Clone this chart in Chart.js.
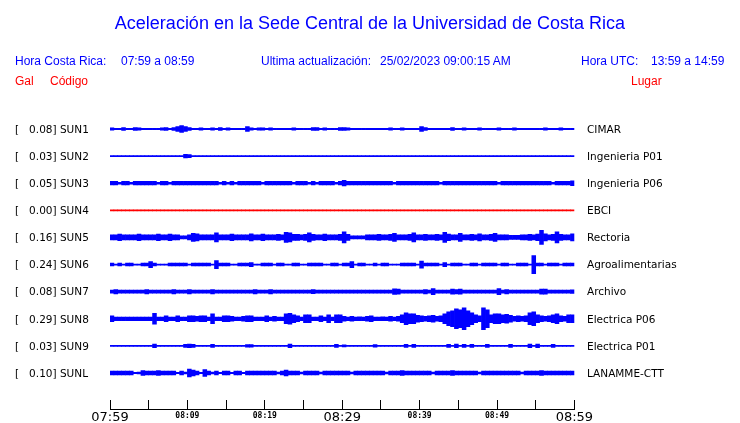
<!DOCTYPE html>
<html><head><meta charset="utf-8">
<script src="https://cdn.jsdelivr.net/npm/chart.js@4.4.0/dist/chart.umd.min.js"></script>
<style>
html,body{margin:0;padding:0;background:#fff;}
#wrap{position:relative;width:740px;height:423px;overflow:hidden;background:#fff;}
#c{position:absolute;left:0;top:0;}
.t{position:absolute;white-space:pre;font-family:"Liberation Sans",Arial,sans-serif;font-size:12px;line-height:14px;color:#0000ff;}
.r{color:#ff0000;}
</style></head><body>
<div id="wrap">
<canvas id="c" width="740" height="423"></canvas>
<div class="t" style="left:0;width:740px;text-align:center;top:13px;font-size:18px;line-height:20px;">Aceleración en la Sede Central de la Universidad de Costa Rica</div>
<div class="t" style="left:15px;top:54px">Hora Costa Rica:</div>
<div class="t" style="left:121px;top:54px">07:59 a 08:59</div>
<div class="t" style="left:261px;top:54px">Ultima actualización:</div>
<div class="t" style="left:380px;top:54px">25/02/2023 09:00:15 AM</div>
<div class="t" style="left:581px;top:54px">Hora UTC:</div>
<div class="t" style="left:651px;top:54px">13:59 a 14:59</div>
<div class="t r" style="left:15px;top:74px">Gal</div>
<div class="t r" style="left:50px;top:74px">Código</div>
<div class="t r" style="left:631px;top:74px">Lugar</div>
</div>
<script>
// ---------- DATA ----------
const codes   = ['SUN1','SUN2','SUN3','SUN4','SUN5','SUN6','SUN7','SUN8','SUN9','SUNL'];
const peakGal = ['0.08','0.03','0.05','0.00','0.16','0.24','0.08','0.29','0.03','0.10'];
const places  = ['CIMAR','Ingenieria P01','Ingenieria P06','EBCI','Rectoria','Agroalimentarias','Archivo','Electrica P06','Electrica P01','LANAMME-CTT'];
const timeTicks  = [0,5,10,15,20,25,30,35,40,45,50,55,60];       // minutes after 07:59
const timeLabels = ['07:59','','08:09','','08:19','','08:29','','08:39','','08:49','','08:59'];
const binMinutes = 0.5;   // each envelope value covers 30 s
// half-amplitude envelopes of each trace (display units), one value per 30 s bin
const sun1 = [1.2,0.7,0.7,1.5,0.7,0.7,1.5,1.2,0.7,0.7, 0.7,0.7,0.7,1.2,1.5,0.7,1.5,2.5,3.3,2.5,
              1.5,0.7,0.7,1.2,0.7,0.7,1.2,0.7,1.5,0.7, 1.2,0.7,0.7,0.7,0.7,2.5,1.2,0.7,1.2,1.2,
              0.7,1.2,0.7,0.7,0.7,0.7,0.7,1.2,0.7,0.7, 0.7,0.7,1.5,1.5,0.7,1.2,0.7,0.7,0.7,1.5,
              1.5,1.2,0.7,0.7,0.7,0.7,0.7,0.7,0.7,0.7, 0.7,0.7,1.2,0.7,0.7,1.2,0.7,0.7,0.7,0.7,
              2.5,1.5,0.7,0.7,0.7,0.7,0.7,0.7,1.5,0.7, 0.7,1.2,0.7,0.7,0.7,1.2,0.7,0.7,0.7,0.7,
              1.2,0.7,0.7,0.7,1.2,0.7,0.7,0.7,0.7,0.7, 0.7,0.7,1.2,0.7,0.7,0.7,1.2,0.7,0.7,0.7];
const sun2 = [0.6,0.6,0.6,0.6,0.6,0.6,0.6,0.6,0.6,0.6, 0.6,0.6,0.6,0.6,0.6,0.6,0.6,0.6,0.6,1.8,
              1.5,0.6,0.6,0.6,0.6,0.6,0.6,0.6,0.6,0.6, 0.6,0.6,0.6,0.6,0.6,0.6,0.6,0.6,0.6,0.6,
              0.6,0.6,0.6,0.6,0.6,0.6,0.6,0.6,0.6,0.6, 0.6,0.6,0.6,0.6,0.6,0.6,0.6,0.6,0.6,0.6,
              0.6,0.6,0.6,0.6,0.6,0.6,0.6,0.6,0.6,0.6, 0.6,0.6,0.6,0.6,0.6,0.6,0.6,0.6,0.6,0.6,
              0.6,0.6,0.6,0.6,0.6,0.6,0.6,0.6,0.6,0.6, 0.6,0.6,0.6,0.6,0.6,0.6,0.6,0.6,0.6,0.6,
              0.6,0.6,0.6,0.6,0.6,0.6,0.6,0.6,0.6,0.6, 0.6,0.6,0.6,0.6,0.6,0.6,0.6,0.6,0.6,0.6];
const sun3 = [1.8,1.8,1.0,1.8,1.8,1.0,1.8,1.8,1.8,1.8, 1.8,1.8,1.0,1.8,1.8,1.0,1.8,1.8,1.8,1.8,
              1.8,1.8,1.8,1.8,1.8,1.8,1.8,1.8,1.0,1.8, 1.0,1.8,1.0,1.8,1.8,1.8,1.8,1.8,1.8,1.0,
              1.8,1.8,1.8,1.8,1.8,1.8,1.8,1.0,1.8,1.8, 1.8,1.0,1.8,1.0,1.8,1.8,1.8,1.8,1.0,1.8,
              2.8,1.8,1.8,1.8,1.8,1.8,1.8,1.8,1.8,1.8, 1.8,1.8,1.8,1.0,1.8,1.8,1.8,1.8,1.8,1.8,
              1.8,1.8,1.8,1.8,1.8,1.0,1.8,1.8,1.8,1.8, 1.8,1.8,1.8,1.8,1.8,1.8,1.8,1.8,1.8,1.8,
              1.0,1.8,1.8,1.8,1.8,1.8,1.8,1.8,1.8,1.8, 1.8,1.8,1.8,1.8,1.0,1.8,1.8,1.8,1.8,2.5];
const sun4 = [0.5,0.5,0.5,0.5,0.5,0.5,0.5,0.5,0.5,0.5, 0.5,0.5,0.5,0.5,0.5,0.5,0.5,0.5,0.5,0.5,
              0.5,0.5,0.5,0.5,0.5,0.5,0.5,0.5,0.5,0.5, 0.5,0.5,0.5,0.5,0.5,0.5,0.5,0.5,0.5,0.5,
              0.5,0.5,0.5,0.5,0.5,0.5,0.5,0.5,0.5,0.5, 0.5,0.5,0.5,0.5,0.5,0.5,0.5,0.5,0.5,0.5,
              0.5,0.5,0.5,0.5,0.5,0.5,0.5,0.5,0.5,0.5, 0.5,0.5,0.5,0.5,0.5,0.5,0.5,0.5,0.5,0.5,
              0.5,0.5,0.5,0.5,0.5,0.5,0.5,0.5,0.5,0.5, 0.5,0.5,0.5,0.5,0.5,0.5,0.5,0.5,0.5,0.5,
              0.5,0.5,0.5,0.5,0.5,0.5,0.5,0.5,0.5,0.5, 0.5,0.5,0.5,0.5,0.5,0.5,0.5,0.5,0.5,0.5];
const sun5 = [2.5,2.5,3.3,2.5,2.5,2.5,2.5,3.3,2.5,2.5, 2.5,2.5,3.3,2.5,2.5,3.3,2.5,2.5,1.5,1.5,
              2.5,4.0,3.5,2.5,2.5,2.5,2.5,4.5,2.5,2.5, 2.5,3.3,2.5,2.5,2.5,2.5,3.5,2.5,2.5,3.3,
              2.5,2.5,2.5,3.0,2.5,5.0,4.5,3.0,3.0,2.5, 3.0,4.5,3.0,2.5,2.5,3.3,2.5,2.5,2.5,3.0,
              5.5,3.0,1.5,1.5,1.5,1.5,2.5,2.5,2.5,3.0, 2.5,2.5,3.0,4.0,2.5,2.5,2.5,3.0,4.5,2.5,
              2.5,3.0,2.5,2.5,3.0,2.5,5.0,3.3,2.5,2.5, 4.0,2.5,2.5,3.0,2.5,3.5,2.5,2.5,3.0,4.0,
              2.5,2.5,2.5,2.0,2.0,2.0,2.5,2.5,3.0,2.5, 3.3,7.0,3.5,2.5,3.0,5.5,3.0,2.5,2.5,3.5];
const sun6 = [1.4,0.6,1.4,0.6,1.4,1.4,0.6,0.6,1.4,1.4, 3.0,1.4,0.6,0.6,0.6,1.4,1.4,1.4,1.4,1.4,
              0.6,1.4,1.4,1.4,1.4,1.4,0.6,4.0,1.4,1.4, 1.4,0.6,0.6,1.4,1.4,1.4,2.0,0.6,0.6,1.4,
              1.4,1.4,0.6,1.4,1.4,0.6,0.6,1.4,1.4,0.6, 0.6,1.4,1.4,1.4,1.4,0.6,0.6,1.4,1.4,0.6,
              1.4,1.4,3.0,0.6,1.4,1.4,0.6,0.6,1.4,0.6, 1.4,1.4,0.6,0.6,0.6,1.4,1.4,1.4,1.4,0.6,
              3.5,1.4,1.4,1.4,1.4,0.6,2.0,0.6,1.4,1.4, 1.4,0.6,0.6,1.4,1.4,0.6,1.4,1.4,1.4,1.4,
              0.6,1.4,1.4,0.6,0.6,1.4,1.4,1.4,0.6,9.0, 1.4,1.4,0.6,1.4,1.4,1.4,0.6,1.4,1.4,1.4];
const sun7 = [1.6,2.2,1.6,1.6,1.6,1.6,1.6,1.6,1.6,2.2, 1.6,1.6,1.6,1.6,1.6,1.6,2.2,1.6,1.6,1.6,
              2.2,1.6,1.6,1.6,1.6,1.6,2.2,1.6,1.6,1.6, 1.6,1.6,1.6,1.6,1.6,1.6,1.6,2.2,1.6,1.6,
              1.6,2.2,1.6,1.6,1.6,1.6,1.6,1.6,1.6,1.6, 1.6,1.6,2.0,1.6,1.6,1.6,1.6,1.6,1.6,1.6,
              1.6,1.6,1.6,1.6,1.6,1.6,1.6,1.6,1.6,1.6, 1.6,1.6,1.6,2.8,2.5,1.6,1.6,1.6,1.6,1.6,
              1.6,2.2,1.6,3.0,1.6,1.6,1.6,1.6,2.5,2.2, 2.5,1.6,1.6,1.6,1.6,1.6,1.6,1.6,1.6,1.6,
              3.0,1.6,2.2,1.6,1.6,1.6,1.6,1.6,1.6,1.6, 1.6,2.5,2.5,1.6,1.6,1.6,1.6,1.6,1.6,1.8];
const sun8 = [3.0,1.8,1.8,1.8,1.8,1.8,1.8,1.8,1.8,1.8, 1.8,5.5,1.8,1.8,3.0,1.8,1.8,3.0,1.8,1.8,
              3.0,3.0,2.5,3.0,3.0,1.8,5.0,1.8,1.8,3.0, 3.0,2.5,1.8,1.8,2.5,3.0,3.0,1.8,1.8,1.8,
              3.0,1.8,2.5,1.8,1.8,5.0,5.5,4.0,3.0,1.8, 4.0,4.0,1.8,1.8,3.0,1.8,4.0,1.8,4.0,4.0,
              2.5,1.8,2.5,1.8,2.0,1.8,2.5,3.0,1.8,1.8, 2.0,1.8,2.5,1.8,2.5,4.0,6.0,5.0,5.0,3.5,
              3.0,2.5,3.0,3.5,2.5,3.0,5.0,7.0,8.0,10.0, 9.0,11.0,8.0,6.0,4.0,3.0,11.0,9.0,4.0,5.0,
              5.0,4.0,4.5,3.5,2.5,3.0,2.5,3.0,6.0,7.0, 4.0,3.0,2.5,3.0,4.0,5.0,3.0,2.5,4.0,4.0];
const sun9 = [0.6,0.6,0.6,0.6,0.6,0.6,0.6,0.6,0.6,0.6, 0.6,1.8,0.6,0.6,0.6,0.6,0.6,0.6,0.6,1.6,
              1.8,1.6,0.6,0.6,0.6,0.6,1.6,0.6,0.6,0.6, 0.6,0.6,0.6,0.6,0.6,1.3,1.3,0.6,0.6,0.6,
              0.6,0.6,0.6,0.6,0.6,0.6,1.8,0.6,0.6,0.6, 0.6,0.6,0.6,0.6,0.6,0.6,0.6,0.6,1.6,0.6,
              1.0,0.6,0.6,0.6,0.6,0.6,0.6,0.6,1.3,0.6, 0.6,0.6,0.6,0.6,0.6,0.6,1.6,0.6,1.6,0.6,
              0.6,0.6,0.6,0.6,0.6,0.6,0.6,1.6,0.6,1.8, 0.6,1.6,0.6,1.6,0.6,0.6,0.6,1.6,0.6,0.6,
              0.6,0.6,0.6,1.6,0.6,0.6,0.6,0.6,1.8,0.6, 1.8,0.6,0.6,0.6,1.6,0.6,0.6,0.6,0.6,0.6];
const sunL = [1.8,1.8,1.8,1.8,1.8,1.8,0.7,1.0,2.5,1.8, 1.8,1.8,2.5,1.8,1.8,1.8,1.8,0.7,1.8,0.9,
              4.0,3.0,1.8,0.7,3.5,1.8,0.9,1.8,0.7,1.8, 1.8,0.7,1.8,1.8,0.7,1.8,1.8,1.8,1.8,1.8,
              1.8,1.8,1.8,0.9,1.8,3.0,1.8,1.8,1.8,0.9, 1.8,1.8,1.8,1.8,0.9,1.8,1.8,1.8,1.8,1.8,
              1.8,1.8,0.9,1.8,1.8,1.8,1.8,1.8,1.8,1.8, 1.8,0.9,1.8,1.8,1.8,2.5,1.8,1.8,1.8,1.8,
              1.8,1.8,1.8,0.9,1.8,1.8,1.8,1.8,2.5,1.8, 1.8,1.8,1.8,1.8,1.8,0.9,1.8,1.8,1.8,1.8,
              1.8,1.8,1.8,1.8,1.8,1.8,0.9,1.8,1.8,1.8, 1.8,2.5,1.8,1.8,1.8,1.8,1.8,1.8,1.8,1.8];
const traces = [sun1,sun2,sun3,sun4,sun5,sun6,sun7,sun8,sun9,sunL];

// ---------- STYLE / LAYOUT ----------
const SPACING = 244/9;
const traceColors = ['#0000ff','#0000ff','#0000ff','#ff0000','#0000ff','#0000ff','#0000ff','#0000ff','#0000ff','#0000ff'];
const bigTickIdx = [0,6,12];
const leftLabel = i => '[   ' + peakGal[i] + '] ' + codes[i];
const rowTicks = s => { s.ticks = codes.map((c,i)=>({value: i*SPACING})); };
const noPad = s => { s.paddingTop = 0; s.paddingBottom = 0; s.paddingLeft = 0; s.paddingRight = 0; };

const datasets = traces.map((amps,i)=>({
  label: codes[i],
  data: amps.map((a,j)=>({x:(j+0.5)*binMinutes, y:[i*SPACING - a, i*SPACING + a]})),
  backgroundColor: traceColors[i],
  borderWidth: 0,
  barPercentage: 1,
  categoryPercentage: 1,
  grouped: false,
  xAxisID: 'x', yAxisID: 'y'
}));

new Chart(document.getElementById('c'), {
  type: 'bar',
  data: { datasets },
  options: {
    responsive: false, animation: false, events: [],
    layout: { padding: { left: 15, top: 100, right: 0, bottom: 0 } },
    plugins: { legend: { display: false }, tooltip: { enabled: false }, title: { display: false } },
    scales: {
      x: {
        type: 'linear', position: 'bottom', min: 0, max: 60, offset: false,
        afterBuildTicks: s => { s.ticks = timeTicks.map(v=>({value:v})); },
        afterFit: s => { s.height = 14; noPad(s); },
        grid: { display: true, drawOnChartArea: false, drawTicks: true, tickLength: -9, color: '#000', lineWidth: 1, offset: false },
        border: { display: true, color: '#000', width: 1 },
        ticks: {
          autoSkip: false, maxRotation: 0, minRotation: 0, padding: 10, color: '#000',
          callback: (v,i) => timeLabels[i],
          font: ctx => bigTickIdx.includes(ctx.index)
            ? { family: 'DejaVu Sans', size: 13, lineHeight: 1.2 }
            : { family: 'DejaVu Sans Mono', size: 8, weight: 'bold', lineHeight: 1.6 }
        }
      },
      y: {
        type: 'linear', position: 'left', reverse: true, min: -29, max: 280,
        afterBuildTicks: rowTicks,
        afterFit: s => { s.width = 95; noPad(s); },
        grid: { display: false, drawTicks: false }, border: { display: false },
        ticks: { autoSkip: false, crossAlign: 'far', padding: 0, labelOffset: 1, color: '#000',
                 font: { family: 'DejaVu Sans', size: 10.5 }, callback: (v,i) => leftLabel(i) }
      },
      y2: {
        type: 'linear', position: 'right', reverse: true, min: -29, max: 280,
        afterBuildTicks: rowTicks,
        afterFit: s => { s.width = 740 - 574.4; noPad(s); },
        grid: { display: false, drawTicks: false }, border: { display: false },
        ticks: { autoSkip: false, crossAlign: 'near', padding: 12.6, labelOffset: 1, color: '#000',
                 font: { family: 'DejaVu Sans', size: 10.5 }, callback: (v,i) => places[i] }
      }
    }
  }
});
</script>
</body></html>
